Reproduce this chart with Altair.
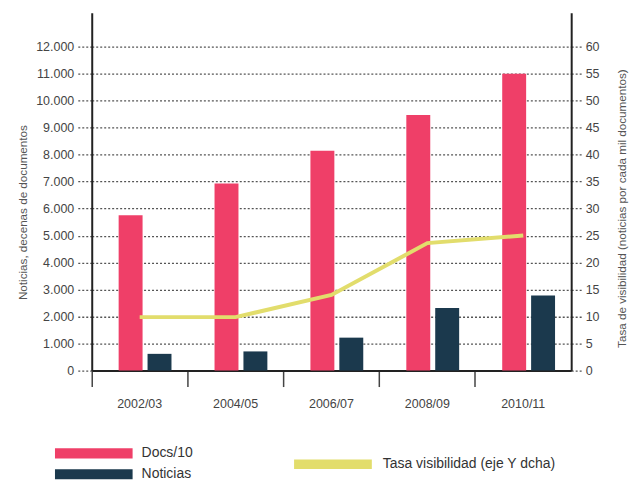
import altair as alt
import pandas as pd

periodos = ["2002/03", "2004/05", "2006/07", "2008/09", "2010/11"]
docs_10 = [5750, 6930, 8140, 9460, 10990]
noticias = [620, 710, 1220, 2320, 2780]
tasa = [9.9, 9.9, 14.0, 23.6, 25.0]

series = ["Docs/10", "Noticias"]
linea = "Tasa visibilidad (eje Y dcha)"

rows = []
for i, p in enumerate(periodos):
    rows.append({"periodo": p, "serie": series[0], "valor": docs_10[i]})
    rows.append({"periodo": p, "serie": series[1], "valor": noticias[i]})
bars_df = pd.DataFrame(rows)
line_df = pd.DataFrame({"periodo": periodos, "tasa": tasa, "serie2": [linea] * len(periodos)})

FONT = "Liberation Sans"
PINK = "#ef3f68"
NAVY = "#1b394d"
YELLOW = "#e2dd6c"
LBL = 12.5

x_enc = alt.X(
    "periodo:N",
    sort=periodos,
    scale=alt.Scale(paddingInner=0, paddingOuter=0),
    axis=alt.Axis(
        title=None, orient="bottom", bandPosition=0,
        tickSize=16, tickWidth=1.5, tickColor="#444", domainColor="#222",
        domainWidth=2, labelPadding=11, labelFontSize=LBL, labelColor="#444",
        labelAngle=0, grid=False, labelFont=FONT,
    ),
)

bars = alt.Chart(bars_df).mark_bar().encode(
    x=x_enc,
    xOffset=alt.XOffset("serie:N", sort=series,
                        scale=alt.Scale(paddingInner=0.172, paddingOuter=0.745, align=0.625)),
    y=alt.Y(
        "valor:Q",
        scale=alt.Scale(domain=[0, 13250], nice=False),
        axis=alt.Axis(
            title="Noticias, decenas de documentos", orient="left",
            values=list(range(0, 12001, 1000)),
            labelExpr="replace(format(datum.value, ','), ',', '.')",
            grid=True, gridDash=[2, 2], gridColor="#555", gridWidth=1.3,
            tickDash=[2, 2], tickSize=15, tickColor="#555", tickWidth=1.3,
            domainColor="#222", domainWidth=2, labelPadding=3,
            labelFontSize=LBL, labelColor="#444", labelFont=FONT,
            titleFont=FONT, titleFontSize=11.7, titleFontWeight="normal",
            titleColor="#555", titlePadding=7, titleY=200,
        ),
    ),
    color=alt.Color(
        "serie:N",
        scale=alt.Scale(domain=series, range=[PINK, NAVY]),
        legend=alt.Legend(
            title=None, orient="none", legendX=-37, legendY=434,
            symbolType="M-1,-0.13L1,-0.13L1,0.13L-1,0.13Z", symbolSize=6084,
            symbolStrokeWidth=0, clipHeight=16, rowPadding=5,
            labelFontSize=14, labelFont=FONT, labelColor="#333", labelOffset=9,
            labelLimit=300,
        ),
    ),
)

line = alt.Chart(line_df).mark_line(strokeWidth=4).encode(
    x=alt.X("periodo:N", sort=periodos),
    y=alt.Y(
        "tasa:Q",
        scale=alt.Scale(domain=[0, 66.25], nice=False),
        axis=alt.Axis(
            title="Tasa de visibilidad (noticias por cada mil documentos)",
            orient="right", values=list(range(0, 61, 5)), grid=False,
            tickDash=[2, 2], tickSize=12, tickColor="#555", tickWidth=1.3,
            domainColor="#222", domainWidth=2, labelPadding=2,
            labelFontSize=LBL, labelColor="#444", labelFont=FONT,
            titleFont=FONT, titleFontSize=11.7, titleFontWeight="normal",
            titleColor="#555", titleAngle=270, titleX=50, titleY=196,
            titleAlign="center", titleBaseline="middle",
        ),
    ),
    color=alt.Color(
        "serie2:N",
        scale=alt.Scale(domain=[linea], range=[YELLOW]),
        legend=alt.Legend(
            title=None, orient="none", legendX=198, legendY=445,
            symbolType="stroke", symbolSize=6084, symbolStrokeWidth=9.5,
            clipHeight=16, labelFontSize=14, labelFont=FONT,
            labelColor="#333", labelOffset=6, labelLimit=300,
        ),
    ),
)

chart = (
    alt.layer(bars, line)
    .resolve_scale(y="independent", color="independent")
    .properties(
        width=481, height=359,
        autosize=alt.AutoSizeParams(type="none"),
        padding={"left": 84, "top": 4, "right": 60, "bottom": 110},
        background="white",
    )
    .configure_view(stroke=None)
)

chart.save("out.html", embed_options={"renderer": "svg", "actions": False})
